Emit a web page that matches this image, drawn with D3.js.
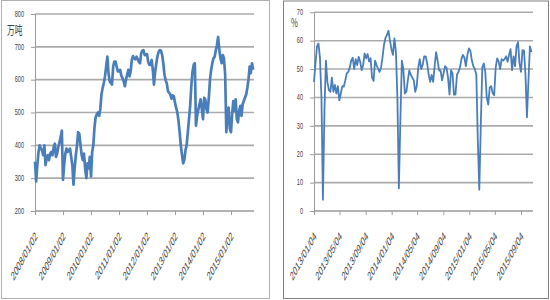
<!DOCTYPE html>
<html><head><meta charset="utf-8">
<script src="https://cdn.jsdelivr.net/npm/d3@7"></script>
<style>body{margin:0;background:#fff} svg{display:block} text{-webkit-font-smoothing:antialiased}</style>
</head><body><svg id="c" width="550" height="300"></svg>
<script>
// ---------- DATA ----------
const leftStart = "2008/01/02";
const leftTickLabels = ["2008/01/02","2009/01/02","2010/01/02","2011/01/02","2012/01/02","2013/01/02","2014/01/02","2015/01/02"];
const leftYTicks = [200,300,400,500,600,700,800];
const leftUnit = "万吨";
// semi-monthly readings (万吨)
const leftValues = [
350,290,340,380,400,390,385,370,400,340,360,370,355,375,380,370,395,405,365,375,
395,410,425,445,295,340,375,390,380,385,390,365,340,280,330,370,400,440,435,400,
370,355,375,330,300,345,330,365,305,380,400,455,485,495,500,490,510,555,575,590,
610,640,670,620,595,590,585,640,655,655,640,625,625,630,612,605,595,580,600,615,
630,610,625,660,672,665,662,670,663,655,650,680,688,690,675,675,678,655,645,645,
660,630,585,625,650,672,685,690,688,675,650,615,598,588,565,560,555,542,552,550,
530,515,500,475,440,400,370,345,355,385,400,440,480,520,580,625,645,650,460,490,
509,525,540,510,480,545,540,510,500,545,600,630,650,665,670,690,705,730,690,665,
650,675,665,615,440,495,515,450,440,495,535,505,540,480,470,505,520,490,525,535,
545,555,575,600,640,620,650,630
];

const rightStart = "2013/01/04";
const rightTickLabels = ["2013/01/04","2013/05/04","2013/09/04","2014/01/04","2014/05/04","2014/09/04","2015/01/04","2015/05/04","2015/09/04"];
const rightYTicks = [0,10,20,30,40,50,60,70];
const rightUnit = "%";
// weekly readings (%)
const rightValues = [
45.5,52,58,59,54,40,4,35,53,45.5,42.6,42,47,42,44.4,41.4,44,39,41.4,44,
43.8,46,48.5,49,50.5,53,54,50,53.5,51.4,54.3,52.6,49.6,51.4,55.5,53.8,55.3,52.6,53.8,47,
45.8,53,51.4,50.2,49,50.5,54,58.5,61,62,63.5,60,57,55,60.8,56,40,8,32,53,
50,41.4,42,46,49.5,48,47,46,42,44,50.5,53.5,50,51.5,54.5,54.5,52,48,45.5,47.9,
45.5,51,56,53,49.5,49.5,46,48.5,51,50.5,47,41,49.6,48.5,41,41,48,49,50.5,53.5,
55,54,51,55,57.3,56.5,53,51,50,48,25,7.5,30,50.5,52,49,40,37.5,43.5,44,
41.5,40.8,50.5,53.8,52.6,50,53.5,53,53.5,54.5,52.6,55,57,49.6,54.5,51,58,59.5,52,49,
56.7,56.5,48,33,46,58,56
];

// ---------- DRAW ----------
const parse = d3.utcParse("%Y/%m/%d");
const svg = d3.select("#c");
const LINE = "#4a7ebb", GRID = "#ababab", AXIS = "#9a9a9a", TXT = "#404040";

function panel(cfg) {
  const g = svg.append("g");
  g.append("rect").attr("x", cfg.box[0]).attr("y", cfg.box[1]).attr("width", cfg.box[2]).attr("height", cfg.box[3])
    .attr("fill", "#fff").attr("stroke", cfg.boxColor).attr("stroke-width", 1);

  const tickDates = cfg.tickLabels.map(parse);
  const x = d3.scaleUtc().domain([tickDates[0], tickDates[tickDates.length - 1]]).range([cfg.x0, cfg.xLast]);
  const y = d3.scaleLinear().domain([cfg.yTicks[0], cfg.yTicks[cfg.yTicks.length - 1]]).range([cfg.yb, cfg.yt]);

  // gridlines
  g.append("g").selectAll("line").data(cfg.yTicks.slice(1)).join("line")
    .attr("x1", cfg.x0).attr("x2", cfg.x1).attr("y1", d => y(d)).attr("y2", d => y(d))
    .attr("stroke", GRID).attr("stroke-width", 1.6);

  // y axis
  const ya = g.append("g").attr("transform", `translate(${cfg.x0},0)`)
    .call(d3.axisLeft(y).tickValues(cfg.yTicks).tickSize(4).tickSizeOuter(0).tickFormat(""));
  ya.selectAll("path,line").attr("stroke", AXIS);
  // x axis
  const xa = g.append("g").attr("transform", `translate(0,${cfg.yb})`)
    .call(d3.axisBottom(x).tickValues(tickDates).tickSize(4).tickSizeOuter(0).tickFormat(""));
  xa.select("path").attr("d", `M${cfg.x0},0H${cfg.x1}`).attr("stroke", AXIS).attr("stroke-width", 1.4);
  xa.selectAll("line").attr("stroke", AXIS);

  const txt = g.append("g").attr("opacity", 0.999);
  // y labels
  txt.append("g").selectAll("text").data(cfg.yTicks).join("text")
    .attr("transform", d => `translate(${cfg.x0 - 11},${y(d) + 2.8}) scale(0.62,1)`)
    .attr("text-anchor", "end").attr("font-family", "Liberation Sans, Arial, sans-serif")
    .attr("font-size", 9).attr("fill", TXT).text(d => d);

  // x labels
  txt.append("g").selectAll("text").data(tickDates).join("text")
    .attr("transform", (d) => `translate(${x(d) + 3},237) scale(0.55,1) rotate(-45)`)
    .attr("text-anchor", "end").attr("font-family", "Liberation Sans, Arial, sans-serif")
    .attr("font-size", 12.5).attr("fill", TXT).text((d, i) => cfg.tickLabels[i]);

  // unit
  txt.append("text").attr("transform", `translate(${cfg.unitPos[0]},${cfg.unitPos[1]}) scale(0.62,1)`)
    .attr("font-family", "Noto Sans CJK SC, sans-serif").attr("font-size", cfg.unitSize).attr("fill", TXT)
    .text(cfg.unit);

  // line
  const start = parse(cfg.start);
  const pts = cfg.values.map((v, i) => ({ date: d3.utcDay.offset(start, Math.round(i * cfg.step)), v }));
  g.append("path").datum(pts)
    .attr("fill", "none").attr("stroke", LINE).attr("stroke-width", cfg.lw).attr("stroke-linejoin", "round")
    .attr("d", d3.line().x(d => x(d.date)).y(d => y(d.v)));
}

panel({
  box: [1.5, 0.5, 268, 298], boxColor: "#b0b0b0",
  x0: 35, xLast: 231, x1: 254, yb: 211, yt: 14,
  tickLabels: leftTickLabels, yTicks: leftYTicks, unit: leftUnit, unitPos: [7, 35], unitSize: 12.5,
  start: leftStart, values: leftValues, step: 365.25 / 24, lw: 2.7
});
panel({
  box: [283.5, 1, 265, 297.5], boxColor: "#808080",
  x0: 314, xLast: 521, x1: 533, yb: 211, yt: 12.3,
  tickLabels: rightTickLabels, yTicks: rightYTicks, unit: rightUnit, unitPos: [291, 27], unitSize: 12,
  start: rightStart, values: rightValues, step: 7, lw: 1.8
});
</script></body></html>
